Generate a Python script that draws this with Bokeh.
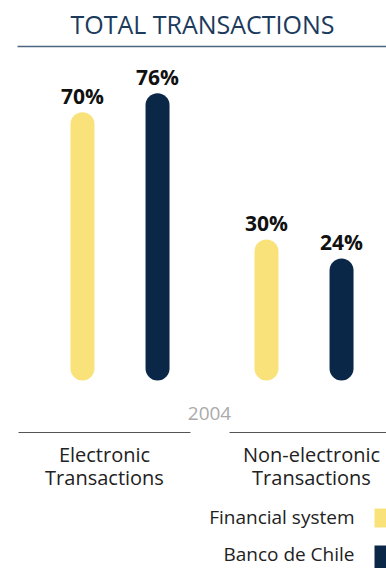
from bokeh.plotting import figure
from bokeh.models import ColumnDataSource, Range1d, Label, BoxAnnotation
from bokeh.transform import dodge
from bokeh.core.properties import value
from bokeh.embed import file_html
from bokeh.resources import INLINE

# ---- data ----
title_text = "TOTAL TRANSACTIONS"
year_text = "2004"
categories = ["Electronic\nTransactions", "Non-electronic\nTransactions"]
series_names = ["Financial system", "Banco de Chile"]
financial_system = [70, 30]
banco_de_chile = [76, 24]

# ---- layout / style ----
W, H = 386, 568
PX_PER_UNIT = 3.18
ZERO_PY = 346.4
GROUP_PX = 184.0
G0_PX = 119.5
YELLOW = "#FAE27A"
NAVY = "#0B2747"
FONT = "Open Sans"
BL = 0.41  # empirical baseline correction (fraction of font size)


def y_of(py):
    return (ZERO_PY - py) / PX_PER_UNIT


def x_of(px):
    return (px - G0_PX) / GROUP_PX


def label(text, x, baseline_py, size, color, align="center", style="normal"):
    return Label(x=x, y=H - (baseline_py - BL * size), x_units="screen", y_units="screen",
                 text=text, text_align=align, text_baseline="alphabetic",
                 text_font=FONT, text_font_size=f"{size}px", text_color=color,
                 text_font_style=style)


p = figure(width=W, height=H, x_range=Range1d(x_of(0), x_of(W)),
           y_range=Range1d(y_of(H), y_of(0)), output_backend="svg",
           toolbar_location=None, min_border=0,
           x_axis_location=None, y_axis_location=None)
p.grid.visible = False
p.outline_line_color = None
p.background_fill_color = "white"

base = y_of(368)
src = ColumnDataSource(dict(
    g=list(range(len(categories))),
    fs=financial_system,
    bc=banco_de_chile,
    fs_lbl=[f"{v}%" for v in financial_system],
    bc_lbl=[f"{v}%" for v in banco_de_chile],
))

OFF = 0.204
for col, lbl, off, color in [("fs", "fs_lbl", -OFF, YELLOW), ("bc", "bc_lbl", OFF, NAVY)]:
    xd = dodge("g", off, range=p.x_range)
    p.segment(x0=xd, y0=base, x1=xd, y1=col, source=src,
              line_width=24, line_cap="round", line_color=color)
    p.text(x=xd, y=col, text=lbl, source=src, text_align="center",
           text_baseline="alphabetic", y_offset=-20 - BL * 21,
           text_font=value(FONT), text_font_style="bold",
           text_font_size="21px", text_color="#111111")

# title and rule
p.add_layout(label(title_text, 202, 34, 25, "#1B3A5C"))
p.segment(x0=x_of(17), y0=y_of(46), x1=x_of(W + 2), y1=y_of(46),
          line_color="#4D6680", line_width=1.5)

# year
p.add_layout(label(year_text, 209, 421, 19, "#AAAAAA"))

# category rules and labels
rule_spans = [(18, 190), (229, W + 2)]
label_centers = [104, 311]
for (a, b), cx, cat in zip(rule_spans, label_centers, categories):
    p.segment(x0=x_of(a), y0=y_of(432), x1=x_of(b), y1=y_of(432),
              line_color="#555555", line_width=1)
    for i, line in enumerate(cat.split("\n")):
        p.add_layout(label(line, cx, 462 + 23 * i, 20, "#222222"))

# legend
legend_rows = [(524, 508, 527), (561, 545, 570)]
for name, color, (bl, top, bot) in zip(series_names, [YELLOW, NAVY], legend_rows):
    p.add_layout(label(name, 354, bl, 19, "#222222", align="right"))
    p.add_layout(BoxAnnotation(left=374, right=W + 2, top=H - top, bottom=H - bot,
                               left_units="screen", right_units="screen",
                               top_units="screen", bottom_units="screen",
                               fill_color=color, fill_alpha=1, line_color=None))

open("out.html", "w").write(file_html(p, INLINE))
